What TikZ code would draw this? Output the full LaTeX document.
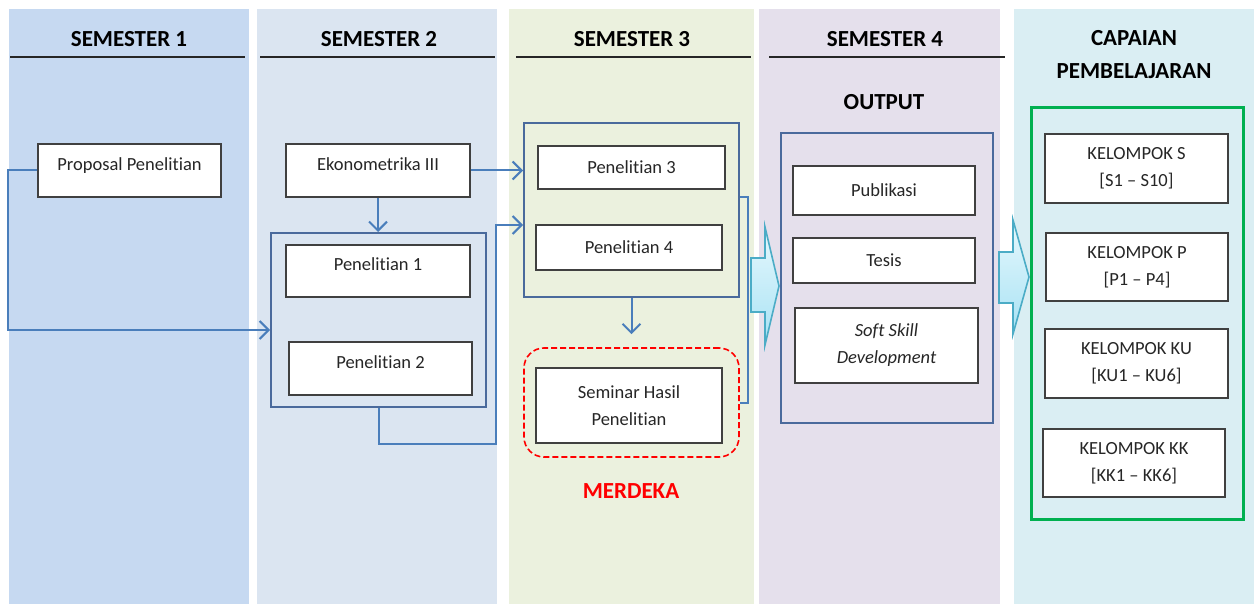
\documentclass[tikz,border=0pt]{standalone}
\usepackage{fontspec}
\setmainfont[Ligatures=NoCommon]{Carlito}
\usepackage{tikz}
\usetikzlibrary{arrows.meta, positioning, calc}
\definecolor{sem1-fill}{HTML}{C6D9F1}
\definecolor{sem2-fill}{HTML}{DBE5F1}
\definecolor{sem3-fill}{HTML}{EBF1DE}
\definecolor{sem4-fill}{HTML}{E5E0EC}
\definecolor{cpl-fill}{HTML}{DAEEF3}
\definecolor{group-border}{HTML}{4A6A9C}
\definecolor{flow-blue}{HTML}{4A7EBB}
\definecolor{block-border}{HTML}{4BACC6}
\definecolor{block-top}{HTML}{E6F8FD}
\definecolor{block-bottom}{HTML}{A8E2F4}
\definecolor{cpl-green}{HTML}{00B050}
\definecolor{text-dark}{HTML}{262626}
\tikzset{
  box-node/.style={
    draw=black!75, fill=white, line width=1.4pt, inner sep=0pt,
    align=center, text=text-dark, font=\fontsize{18.5}{27}\selectfont
  },
  one-line/.style={text height=13pt, text depth=13pt},
  group-box/.style={draw=group-border, line width=2pt, inner sep=0pt},
  head-label/.style={font=\fontsize{23}{33}\selectfont\bfseries, text=black, align=center},
  head-rule/.style={line width=2pt, draw=black!85},
  flow-edge/.style={-{Straight Barb[length=9pt, width=18pt]}, line width=2pt, draw=flow-blue},
  plain-edge/.style={line width=2pt, draw=flow-blue},
  block-arrow/.style={draw=block-border, line width=1.6pt, top color=block-top, bottom color=block-bottom}
}

\begin{document}
\begin{tikzpicture}[x=1pt, y=-1pt]
  \useasboundingbox (0,0) rectangle (1254,604);

  % Kolom latar semester
  \fill[sem1-fill] (9,9) rectangle (249,604);
  \fill[sem2-fill] (257,9) rectangle (497,604);
  \fill[sem3-fill] (509,9) rectangle (754,604);
  \fill[sem4-fill] (759,9) rectangle (1000,604);
  \fill[cpl-fill] (1014,9) rectangle (1254,604);

  % Judul kolom
  \node[head-label] (H1) at (129, 39) {SEMESTER 1};
  \node[head-label] (H2) at (379, 39) {SEMESTER 2};
  \node[head-label] (H3) at (632, 39) {SEMESTER 3};
  \node[head-label] (H4) at (885, 39) {SEMESTER 4};
  \node[head-label] (H5) at (1134, 55) {CAPAIAN\\PEMBELAJARAN};
  \draw[head-rule] (10,57) -- (245,57);
  \draw[head-rule] (260,57) -- (495,57);
  \draw[head-rule] (516,57) -- (751,57);
  \draw[head-rule] (769,57) -- (1005,57);

  % Semester 1 dan 2
  \node[box-node, one-line, minimum width=183pt, minimum height=53pt] (proposal) at (129.5, 170.5) {Proposal Penelitian};
  \node[box-node, one-line, minimum width=184pt, minimum height=53pt] (eko) at (378, 170.5) {Ekonometrika III};
  \node[group-box, minimum width=215pt, minimum height=174pt] (group1) at (378.5, 320) {};
  \node[box-node, one-line, minimum width=184pt, minimum height=52pt] (pen1) at (378, 271) {Penelitian 1};
  \node[box-node, one-line, minimum width=183pt, minimum height=53pt] (pen2) at (380.5, 368.5) {Penelitian 2};

  % Semester 3
  \node[group-box, minimum width=215pt, minimum height=174pt] (group2) at (631.5, 210) {};
  \node[box-node, minimum width=187pt, minimum height=43pt] (pen3) at (631.5, 167.5) {Penelitian 3};
  \node[box-node, minimum width=186pt, minimum height=45pt] (pen4) at (629, 247.5) {Penelitian 4};
  \node[draw=red, dash pattern=on 6pt off 3pt, line width=1.6pt, rounded corners=20pt, inner sep=0pt,
        minimum width=215pt, minimum height=109pt] (merdeka-box) at (631.5, 402.5) {};
  \node[box-node, minimum width=186pt, minimum height=75pt] (seminar) at (629, 405.5) {Seminar Hasil\\Penelitian};
  \node[head-label, text=red] (merdeka) at (631, 491) {MERDEKA};

  % Semester 4: output
  \node[head-label] (output) at (884, 102) {OUTPUT};
  \node[group-box, minimum width=212pt, minimum height=290pt] (group3) at (887, 278) {};
  \node[box-node, minimum width=182pt, minimum height=49pt] (publikasi) at (884, 190.5) {Publikasi};
  \node[box-node, minimum width=182pt, minimum height=45pt] (tesis) at (884, 260.5) {Tesis};
  \node[box-node, minimum width=183pt, minimum height=75pt] (softskill) at (886.5, 345.5) {\itshape Soft Skill\\\itshape Development};

  % Capaian pembelajaran
  \node[draw=cpl-green, line width=3pt, inner sep=0pt, minimum width=212pt, minimum height=411pt] (cpl) at (1137, 313.5) {};
  \node[box-node, minimum width=183pt, minimum height=69pt] (kel-s) at (1136.5, 168.5) {KELOMPOK S\\{[S1 -- S10]}};
  \node[box-node, minimum width=182pt, minimum height=68pt] (kel-p) at (1137, 267) {KELOMPOK P\\{[P1 -- P4]}};
  \node[box-node, minimum width=183pt, minimum height=69pt] (kel-ku) at (1136.5, 363.5) {KELOMPOK KU\\{[KU1 -- KU6]}};
  \node[box-node, minimum width=182pt, minimum height=68pt] (kel-kk) at (1134, 463) {KELOMPOK KK\\{[KK1 -- KK6]}};

  % Alur antar mata kuliah
  \draw[flow-edge] (proposal.west) -- ++(-29,0) |- ([yshift=-10pt]group1.west);
  \draw[flow-edge] (eko.south) -- (eko.south |- group1.north);
  \draw[flow-edge] (eko.east) -- (eko.east -| group2.west);
  \draw[flow-edge] (group1.south) -- ++(0,36) -- ++(117,0) |- ([yshift=-15pt]group2.west);
  \draw[flow-edge] (group2.south) -- ([yshift=13pt]merdeka-box.north);
  \draw[plain-edge] ([yshift=13pt]group2.east) -- ++(8,0) |- (merdeka-box.east);

  % Panah blok menuju output dan capaian
  \path[block-arrow] (751,258) -- (765,258) -- (765,227) -- (779,286) -- (765,345) -- (765,312) -- (751,312) -- cycle;
  \path[block-arrow] (999,252) -- (1013,252) -- (1013,220) -- (1029,277) -- (1013,334) -- (1013,303) -- (999,303) -- cycle;
\end{tikzpicture}
\end{document}
